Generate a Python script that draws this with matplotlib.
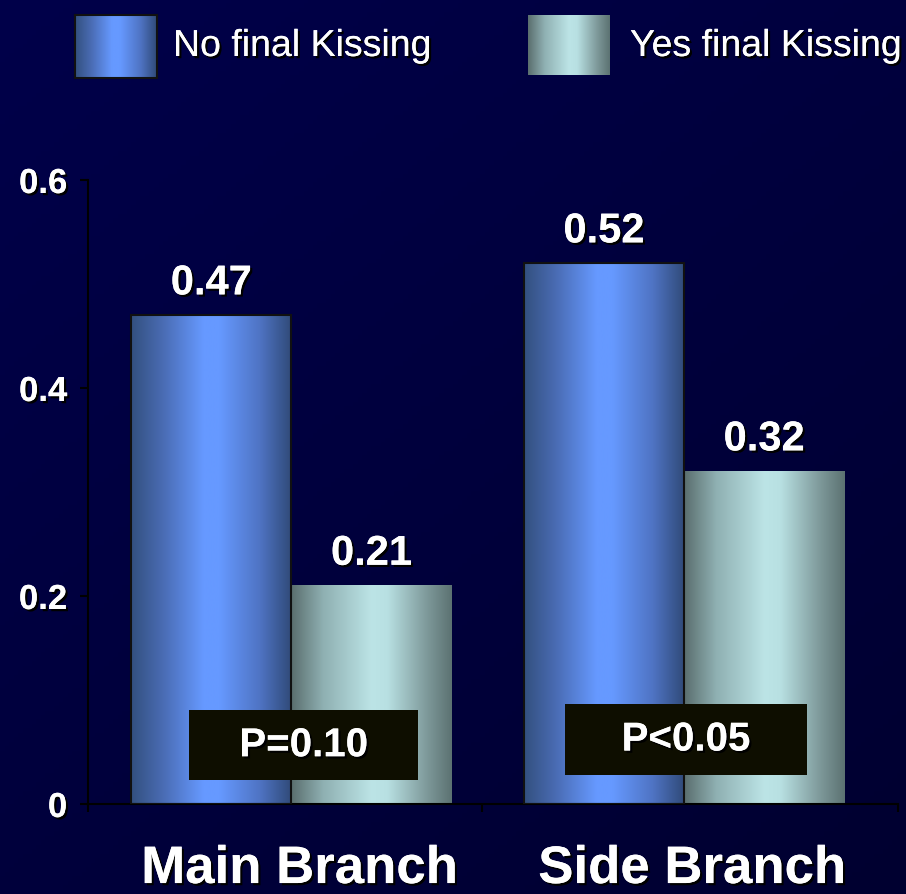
import numpy as np
import matplotlib
matplotlib.use("Agg")
import matplotlib.pyplot as plt
import matplotlib.patheffects as pe
from matplotlib.colors import LinearSegmentedColormap
from matplotlib.patches import Rectangle

plt.rcParams['font.family'] = ['Liberation Sans', 'DejaVu Sans']

categories = ["Main Branch", "Side Branch"]
series = ["No final Kissing", "Yes final Kissing"]
no_kiss = [0.47, 0.52]
yes_kiss = [0.21, 0.32]
value_labels = [["0.47", "0.52"], ["0.21", "0.32"]]
p_labels = ["P=0.10", "P<0.05"]
yticks = [0, 0.2, 0.4, 0.6]
ytick_labels = ["0", "0.2", "0.4", "0.6"]

# cylinder-like shading across each bar
blue_cm = LinearSegmentedColormap.from_list(
    "blue", [(0, "#33507f"), (0.2, "#4a6cb4"), (0.45, "#6699ff"),
             (0.55, "#6699ff"), (0.8, "#4f74c4"), (1, "#304a78")])
teal_cm = LinearSegmentedColormap.from_list(
    "teal", [(0, "#5a6e6e"), (0.2, "#8fb0b2"), (0.5, "#bce4e6"),
             (0.6, "#b8e0e2"), (0.85, "#7d9899"), (1, "#5c7272")])
grad = np.linspace(0, 1, 256).reshape(1, -1)

shadow = [pe.withSimplePatchShadow(offset=(1.6, -1.6), shadow_rgbFace='black', alpha=1), pe.Normal()]

fig = plt.figure(figsize=(9.06, 8.95), dpi=100)

# background
bg = fig.add_axes([0, 0, 1, 1], zorder=-10)
yy, xx = np.mgrid[0:1:200j, 0:1:200j]
shade = 1 - 0.35 * (0.45 * xx + 0.55 * yy)
bg_img = np.dstack([np.zeros_like(shade), np.zeros_like(shade), 0.29 * shade])
bg.imshow(bg_img, extent=(0, 1, 0, 1), aspect='auto', origin='upper')
bg.axis('off')

ax = fig.add_axes([88 / 906, 1 - 805 / 895, 810 / 906, 624 / 895])
ax.set_facecolor('none')
xlo, xhi = -0.518, 1.545

x = np.arange(len(categories))
w = 0.408
bars_no = ax.bar(x - w / 2, no_kiss, w, color='none', edgecolor='#111111', linewidth=1.5, zorder=3)
bars_yes = ax.bar(x + w / 2, yes_kiss, w, color='none', edgecolor='none', zorder=3)

for bars, cm in [(bars_no, blue_cm), (bars_yes, teal_cm)]:
    for b in bars:
        x0, y0 = b.get_x(), b.get_y()
        ax.imshow(grad, cmap=cm, aspect='auto', zorder=2,
                  extent=(x0, x0 + b.get_width(), y0, y0 + b.get_height()))
ax.set_xlim(xlo, xhi)
ax.set_ylim(0, 0.6)

for i, bars in enumerate([bars_no, bars_yes]):
    for j, b in enumerate(bars):
        ax.annotate(value_labels[i][j], (b.get_x() + b.get_width() / 2, b.get_height()),
                    xytext=(0, 15), textcoords='offset points', ha='center', va='baseline',
                    color='white', fontsize=30, fontweight='bold', path_effects=shadow,
                    annotation_clip=False, zorder=5)

# p-value boxes: (center x, bottom y, width, height)
p_boxes = [(0.031, 0.023, 0.583, 0.067), (1.005, 0.028, 0.617, 0.068)]
for (cx, by, bw, bh), lab in zip(p_boxes, p_labels):
    ax.add_patch(Rectangle((cx - bw / 2, by), bw, bh, facecolor='#0e0e00', edgecolor='none', zorder=4))
    ax.text(cx, by + bh / 2, lab, ha='center', va='center', color='white', fontsize=29,
            fontweight='bold', path_effects=shadow, zorder=5)

for s in ['top', 'right']:
    ax.spines[s].set_visible(False)
for s in ['left', 'bottom']:
    ax.spines[s].set_color('black')
    ax.spines[s].set_linewidth(1.5)

ax.set_yticks(yticks)
ax.set_yticklabels(ytick_labels)
ax.tick_params(axis='y', colors='black', length=6, width=1.5, pad=9,
               labelcolor='white', labelsize=25)
for t in ax.get_yticklabels():
    t.set_fontweight('bold')
    t.set_path_effects(shadow)

ax.set_xticks([xlo, 0.485, xhi])
ax.set_xticklabels([])
ax.tick_params(axis='x', colors='black', length=6, width=1.5)
for xi, cat in zip(x, categories):
    ax.text(xi + 0.02, -0.076, cat, ha='center', va='baseline', color='white', fontsize=38,
            fontweight='bold', path_effects=shadow, clip_on=False)

# legend swatches
def swatch(px, py, pw, ph, cm, edge):
    sa = fig.add_axes([px / 906, 1 - (py + ph) / 895, pw / 906, ph / 895])
    sa.imshow(grad, cmap=cm, aspect='auto')
    sa.set_xticks([])
    sa.set_yticks([])
    for sp in sa.spines.values():
        sp.set_visible(edge)
        sp.set_color('#111111')
        sp.set_linewidth(1.5)

swatch(75, 16, 82, 63, blue_cm, True)
swatch(528, 16, 82, 60, teal_cm, False)
fig.text(173 / 906, 1 - 47 / 895, series[0], ha='left', va='center', color='white',
         fontsize=27, path_effects=shadow)
fig.text(630 / 906, 1 - 47 / 895, series[1], ha='left', va='center', color='white',
         fontsize=27, path_effects=shadow)

fig.savefig("out.png", dpi=100, facecolor='#000048')
